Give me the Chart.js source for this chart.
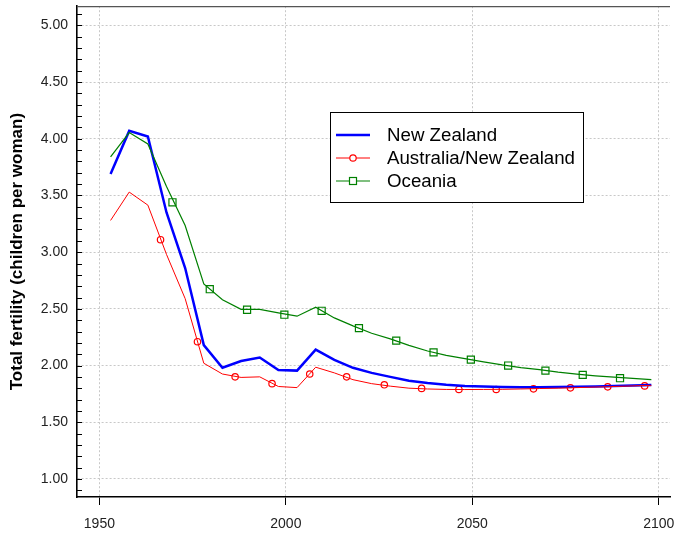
<!DOCTYPE html>
<html lang="en">
<head>
<meta charset="utf-8">
<title>Total fertility</title>
<script src="https://cdn.jsdelivr.net/npm/chart.js@4"></script>
<style>
    html, body { margin: 0; padding: 0; background: #fff; }
    #wrap { width: 679px; height: 533px; }
</style>
</head>
<body>
<div id="wrap"><canvas id="chart" width="679" height="533"></canvas></div>
<script>
    // period midpoints
    const years = [1953, 1958, 1963, 1968, 1973, 1978, 1983, 1988, 1993, 1998,
                   2003, 2008, 2013, 2018, 2023, 2028, 2033, 2038, 2043, 2048,
                   2053, 2058, 2063, 2068, 2073, 2078, 2083, 2088, 2093, 2098];
    const newZealand = [3.69, 4.07, 4.02, 3.35, 2.86, 2.18, 1.98, 2.04, 2.07, 1.96,
                        1.955, 2.14, 2.05, 1.98, 1.935, 1.90, 1.865, 1.845, 1.83, 1.82,
                        1.815, 1.81, 1.808, 1.808, 1.81, 1.812, 1.815, 1.82, 1.824, 1.828];
    const ausNz = [3.28, 3.53, 3.415, 2.98, 2.59, 2.02, 1.925, 1.895, 1.90, 1.815,
                   1.805, 1.985, 1.935, 1.875, 1.84, 1.818, 1.80, 1.793, 1.789, 1.788,
                   1.789, 1.79, 1.793, 1.797, 1.80, 1.805, 1.81, 1.815, 1.82, 1.825];
    const oceania = [3.84, 4.055, 3.955, 3.58, 3.235, 2.72, 2.58, 2.495, 2.495, 2.465,
                     2.435, 2.515, 2.42, 2.35, 2.285, 2.235, 2.178, 2.128, 2.09, 2.06,
                     2.032, 2.005, 1.982, 1.964, 1.942, 1.924, 1.909, 1.897, 1.886, 1.876];

    // marker positions (markers are spaced along the curves, not on the vertices)
    const ausNzMarkerYears = [1966.4, 1976.3, 1986.4, 1996.3, 2006.4, 2016.3, 2026.4,
                              2036.4, 2046.4, 2056.4, 2066.4, 2076.3, 2086.3, 2096.2];
    const ausNzMarkers = [3.11, 2.21, 1.90, 1.84, 1.925, 1.90, 1.83,
                          1.798, 1.789, 1.789, 1.794, 1.803, 1.812, 1.82];
    const oceaniaMarkerYears = [1969.6, 1979.6, 1989.6, 1999.6, 2009.6, 2019.6, 2029.6,
                                2039.6, 2049.6, 2059.6, 2069.6, 2079.6, 2089.6];
    const oceaniaMarkers = [3.44, 2.673, 2.492, 2.448, 2.483, 2.33, 2.22,
                            2.116, 2.052, 2.0, 1.955, 1.917, 1.888];

    const xTickLabels = [1950, 2000, 2050, 2100];
    const yTickLabels = ['1.00', '1.50', '2.00', '2.50', '3.00', '3.50', '4.00', '4.50', '5.00'];

    const FONT = "'Liberation Sans', Arial, sans-serif";
    const BLUE = '#0000ff', RED = '#ff0000', GREEN = '#008000';

    function pts(xs, ys) {
        return xs.map(function (x, i) { return { x: x, y: ys[i] }; });
    }

    // inward minor ticks on y, top frame line, legend box
    const extras = {
        id: 'extras',
        afterDraw: function (chart) {
            const ctx = chart.ctx;
            const a = chart.chartArea;
            const ys = chart.scales.y;
            ctx.save();
            ctx.strokeStyle = '#000';
            ctx.lineWidth = 1;
            for (let k = 9; k <= 51; k++) {
                const py = Math.round(ys.getPixelForValue(k / 10)) + 0.5;
                ctx.beginPath();
                ctx.moveTo(a.left, py);
                ctx.lineTo(a.left + 5, py);
                ctx.stroke();
            }
            ctx.strokeStyle = '#555';
            ctx.lineWidth = 1.2;
            ctx.beginPath();
            ctx.moveTo(a.left, a.top + 0.5);
            ctx.lineTo(a.right, a.top + 0.5);
            ctx.stroke();

            // legend
            const lx = 330.5, ly = 112.5, lw = 253, lh = 90;
            ctx.fillStyle = '#fff';
            ctx.fillRect(lx, ly, lw, lh);
            ctx.strokeStyle = '#000';
            ctx.lineWidth = 1;
            ctx.strokeRect(lx, ly, lw, lh);
            const rows = [
                { label: 'New Zealand', color: BLUE, width: 2.5, mark: null },
                { label: 'Australia/New Zealand', color: RED, width: 1, mark: 'circle' },
                { label: 'Oceania', color: GREEN, width: 1.2, mark: 'rect' }
            ];
            ctx.font = '18.7px ' + FONT;
            ctx.textBaseline = 'middle';
            rows.forEach(function (r, i) {
                const cy = 135 + i * 23;
                ctx.strokeStyle = r.color;
                ctx.lineWidth = r.width;
                ctx.beginPath();
                ctx.moveTo(336, cy);
                ctx.lineTo(370, cy);
                ctx.stroke();
                ctx.lineWidth = 1.2;
                if (r.mark === 'circle') {
                    ctx.fillStyle = '#fff';
                    ctx.beginPath();
                    ctx.arc(353, cy, 3.2, 0, Math.PI * 2);
                    ctx.fill();
                    ctx.stroke();
                } else if (r.mark === 'rect') {
                    ctx.fillStyle = '#fff';
                    ctx.fillRect(349.5, cy - 3.5, 7, 7);
                    ctx.strokeRect(349.5, cy - 3.5, 7, 7);
                }
                ctx.fillStyle = '#000';
                ctx.fillText(r.label, 387, cy + 1);
            });
            ctx.restore();
        }
    };

    new Chart(document.getElementById('chart'), {
        type: 'line',
        data: {
            datasets: [
                {
                    label: 'Oceania',
                    data: pts(years, oceania),
                    borderColor: GREEN,
                    borderWidth: 1.2,
                    pointRadius: 0,
                    tension: 0
                },
                {
                    label: 'Australia/New Zealand',
                    data: pts(years, ausNz),
                    borderColor: RED,
                    borderWidth: 1,
                    pointRadius: 0,
                    tension: 0
                },
                {
                    label: 'New Zealand',
                    data: pts(years, newZealand),
                    borderColor: BLUE,
                    borderWidth: 2.5,
                    pointRadius: 0,
                    tension: 0
                },
                {
                    label: 'Oceania markers',
                    data: pts(oceaniaMarkerYears, oceaniaMarkers),
                    showLine: false,
                    pointStyle: 'rect',
                    pointRadius: 5,
                    pointBorderWidth: 1.2,
                    pointBorderColor: GREEN,
                    pointBackgroundColor: 'rgba(255,255,255,0)'
                },
                {
                    label: 'Australia/New Zealand markers',
                    data: pts(ausNzMarkerYears, ausNzMarkers),
                    showLine: false,
                    pointStyle: 'circle',
                    pointRadius: 3.2,
                    pointBorderWidth: 1.2,
                    pointBorderColor: RED,
                    pointBackgroundColor: 'rgba(255,255,255,0)'
                }
            ]
        },
        options: {
            responsive: false,
            animation: false,
            layout: { padding: { left: 0, top: 5, right: 9, bottom: 0 } },
            plugins: {
                legend: { display: false },
                tooltip: { enabled: false }
            },
            scales: {
                x: {
                    type: 'linear',
                    min: 1944,
                    max: 2103,
                    afterFit: function (s) {
                        s.height = 36;
                        s.paddingLeft = 0;
                        s.paddingRight = 0;
                    },
                    afterBuildTicks: function (s) {
                        s.ticks = xTickLabels.map(function (v) { return { value: v }; });
                    },
                    ticks: {
                        color: '#222',
                        font: { family: FONT, size: 14 },
                        padding: 11,
                        maxRotation: 0,
                        callback: function (v) { return String(v); }
                    },
                    grid: {
                        color: '#c8c8c8',
                        lineWidth: 1,
                        drawTicks: true,
                        tickLength: 8,
                        tickColor: '#000',
                        tickWidth: 1,
                        tickBorderDash: [10, 0]
                    },
                    border: { display: true, color: '#000', width: 1.6, dash: [2, 2] }
                },
                y: {
                    type: 'linear',
                    min: 0.84,
                    max: 5.17,
                    afterFit: function (s) {
                        s.width = 77;
                        s.paddingTop = 0;
                        s.paddingBottom = 0;
                    },
                    afterBuildTicks: function (s) {
                        s.ticks = yTickLabels.map(function (t) { return { value: parseFloat(t) }; });
                    },
                    ticks: {
                        color: '#222',
                        font: { family: FONT, size: 14 },
                        padding: 9,
                        callback: function (v) { return Number(v).toFixed(2); }
                    },
                    grid: {
                        color: '#c8c8c8',
                        lineWidth: 1,
                        drawTicks: false
                    },
                    border: { display: true, color: '#000', width: 1.6, dash: [2, 2] },
                    title: {
                        display: true,
                        text: 'Total fertility (children per woman)',
                        color: '#000',
                        font: { family: FONT, size: 17, weight: 'bold' },
                        padding: { top: 7, bottom: 0 }
                    }
                }
            }
        },
        plugins: [extras]
    });
</script>
</body>
</html>
